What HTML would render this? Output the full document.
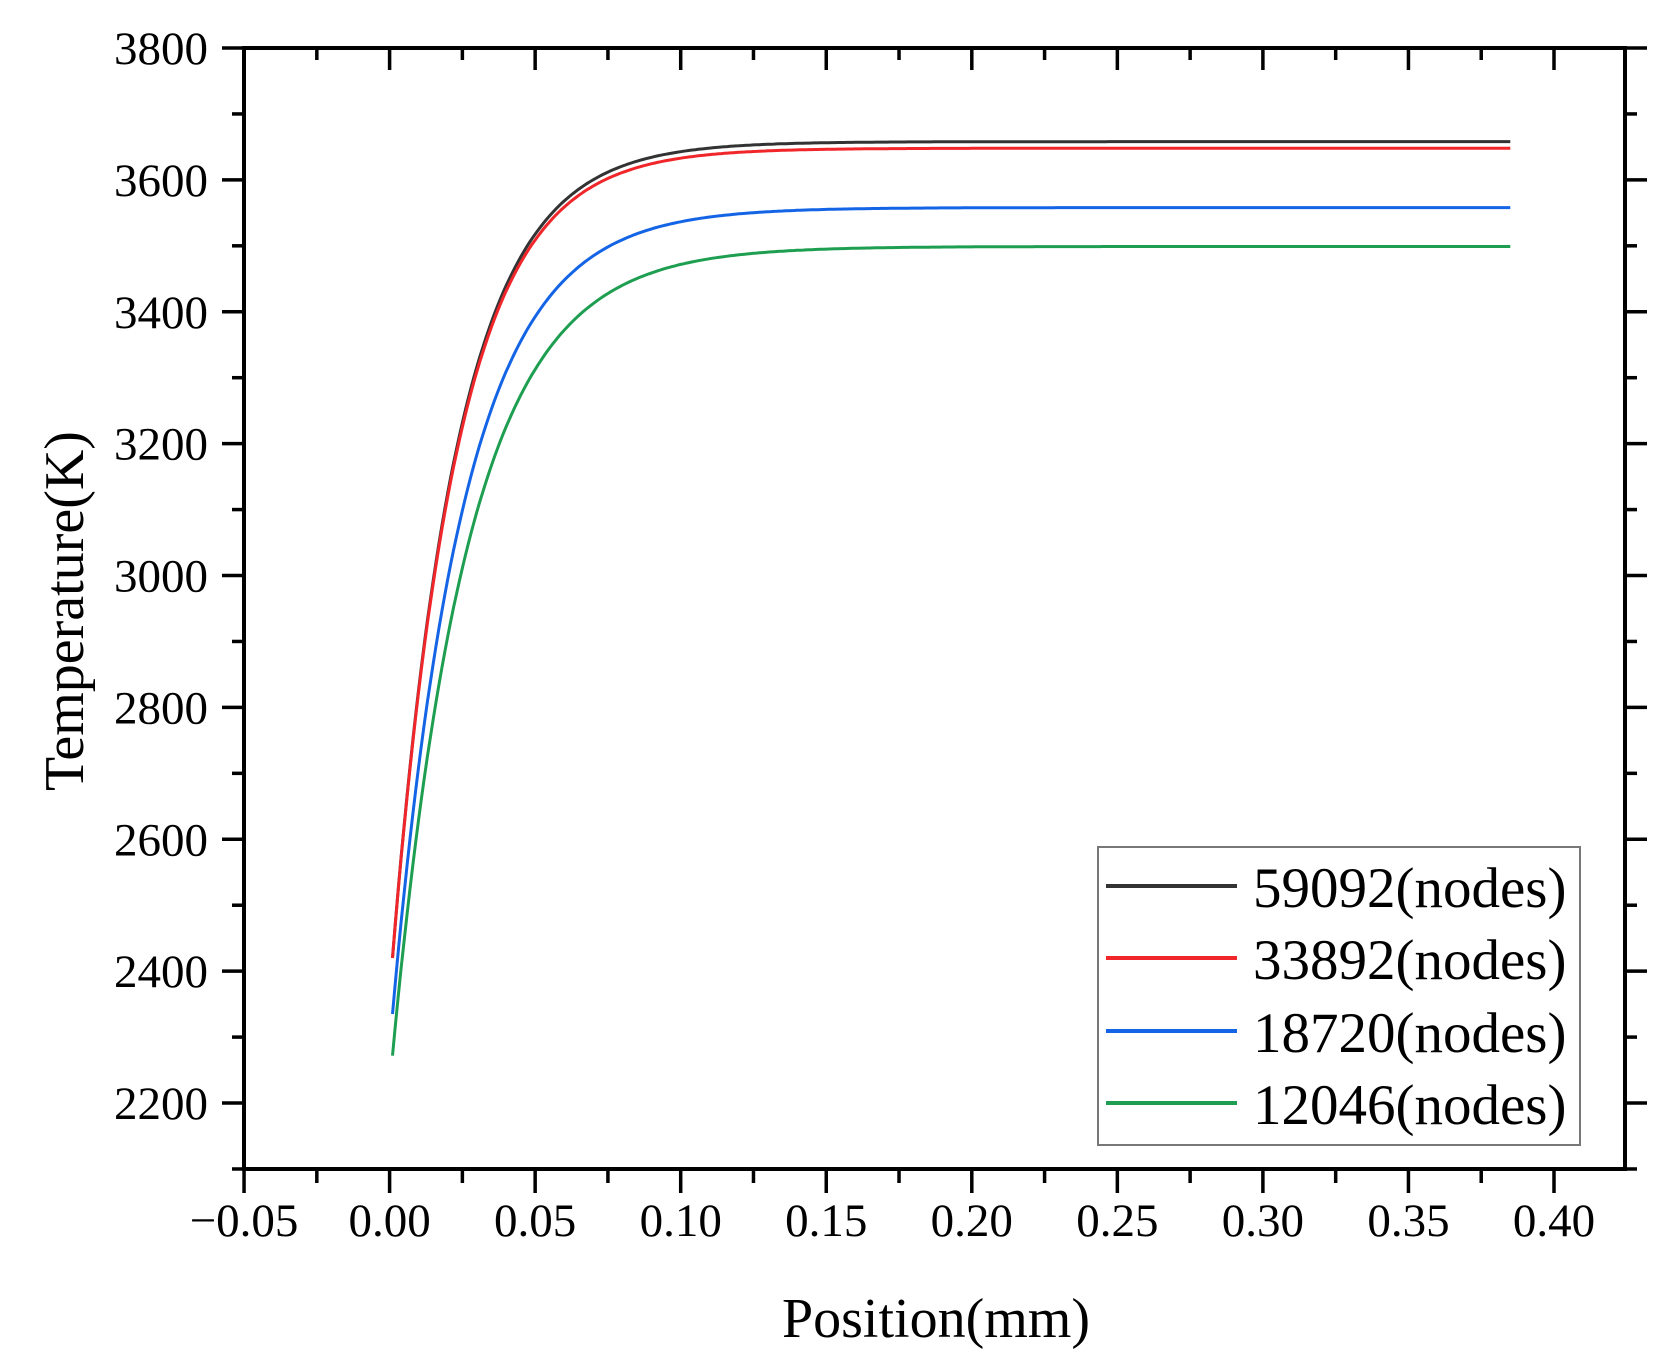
<!DOCTYPE html>
<html><head><meta charset="utf-8"><style>
body{margin:0;background:#fff;}
svg{display:block;}
text{font-family:"Liberation Serif",serif;fill:#000;}
</style></head><body>
<svg id="s" width="1668" height="1370" viewBox="0 0 1668 1370" xmlns="http://www.w3.org/2000/svg">
<rect width="1668" height="1370" fill="#fff"/>
<g id="curves" fill="none" stroke-width="3"></g>
<rect x="244" y="48" width="1381" height="1121" fill="none" stroke="#000" stroke-width="4"/>
<g id="ticks" stroke="#000" stroke-width="3.5"></g>
<g id="labels" font-size="47"></g>
<text x="936" y="1337" font-size="56" text-anchor="middle">Position(mm)</text>
<text transform="translate(83,611) rotate(-90)" font-size="56" text-anchor="middle">Temperature(K)</text>
<rect x="1098" y="847" width="482" height="298" fill="#fff" stroke="#777" stroke-width="2"/>
<g font-size="57">
<line x1="1106" y1="886" x2="1237" y2="886" stroke="#333" stroke-width="4"/><text x="1253" y="907">59092(nodes)</text>
<line x1="1106" y1="958" x2="1237" y2="958" stroke="#f0262a" stroke-width="4"/><text x="1253" y="979">33892(nodes)</text>
<line x1="1106" y1="1031" x2="1237" y2="1031" stroke="#1464e6" stroke-width="4"/><text x="1253" y="1052">18720(nodes)</text>
<line x1="1106" y1="1103" x2="1237" y2="1103" stroke="#1e9e50" stroke-width="4"/><text x="1253" y="1124">12046(nodes)</text>
</g>
</svg>
<script>
var NS="http://www.w3.org/2000/svg";
function X(v){return 389.6+v*2911;}
function Y(t){return 48+(3800-t)*0.6594;}
function el(p,n,a,txt){var e=document.createElementNS(NS,n);for(var k in a)e.setAttribute(k,a[k]);if(txt)e.textContent=txt;p.appendChild(e);return e;}
var tk=document.getElementById('ticks'),lb=document.getElementById('labels'),cv=document.getElementById('curves');
for(var t=2100;t<=3800;t+=100){var y=Y(t);var maj=(t%200==0);
 el(tk,'line',{x1:244-(maj?22:12),y1:y,x2:244,y2:y});
 el(tk,'line',{x1:1625,y1:y,x2:1625+(maj?22:12),y2:y});
 if(maj) el(lb,'text',{x:208,y:y+16,'text-anchor':'end'},String(t));}
for(var i=-2;i<=17;i++){var v=i*0.025;var x=X(v);if(x>1626)break;var maj=(i%2==0);
 el(tk,'line',{x1:x,y1:1169,x2:x,y2:1169+(maj?24:14)});
 el(tk,'line',{x1:x,y1:48,x2:x,y2:48+(maj?22:12)});
 if(maj){var s=(v<0?'\u22120.05':v.toFixed(2));el(lb,'text',{x:x,y:1236,'text-anchor':'middle'},s);}}
var ser=[[3658,2420,0.0225,'#333'],[3648,2420,0.0225,'#f0262a'],[3558,2335,0.0245,'#1464e6'],[3499,2272,0.026,'#1e9e50']];
ser.forEach(function(s){var d='';for(var v=0.001;v<=0.3851;v+=0.001){var T=s[0]-(s[0]-s[1])*Math.exp(-(v-0.001)/s[2]);d+=(d?'L':'M')+X(v).toFixed(1)+','+Y(T).toFixed(1);}
 el(cv,'path',{d:d,stroke:s[3]});});
</script>
</body></html>
